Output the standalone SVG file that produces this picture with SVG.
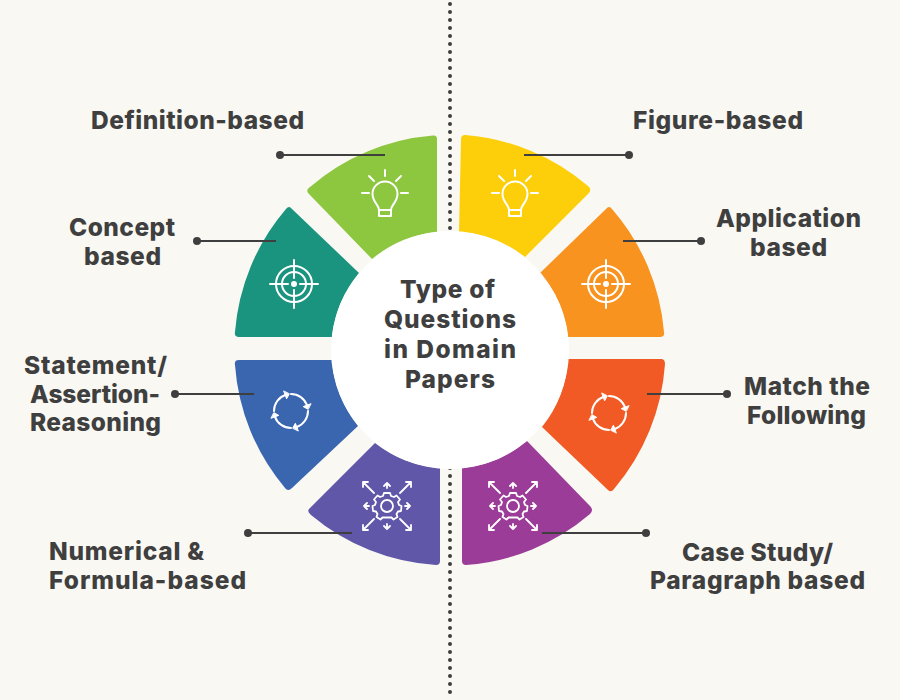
<svg xmlns="http://www.w3.org/2000/svg" width="900" height="700" viewBox="0 0 900 700">
<style>
text{font-family:"Inter","Liberation Sans",sans-serif;font-weight:800;fill:#3f3f3f;font-size:24.500px;text-anchor:middle}
.l{text-anchor:start}
.ic{fill:none;stroke:#fff;stroke-width:2;stroke-linecap:round;stroke-linejoin:round}
.ld{stroke:#3f3f3f;stroke-width:2.200;fill:none}
.dt{fill:#3f3f3f}
.dv{stroke:#3f3f3f;stroke-width:4;stroke-linecap:round;stroke-dasharray:0 8;fill:none}
</style>
<defs>
<g id="bulb" class="ic">
<path d="M-6 15C-6 10-12.500 7-12.500-1A12.500 12.500 0 0 1 12.500-1C12.500 7 6 10 6 15V21H-6ZM-6 15H6M0-25V-19M-16-19-11-14M16-19 11-14M-23-2H-16M23-2H16"/>
</g>
<g id="target" class="ic">
<circle r="18"/><circle r="12"/>
<path d="M0-24V-6M0 6V24M-24 0H-6M6 0H24"/>
<circle r="3" fill="#fff" stroke="none"/>
</g>
<g id="arc"><path d="M0-17A17 17 0 0 1 16-5.800"/><path d="M16.900-1.800 12.200-4.400 19.700-7.200Z" fill="#fff" stroke-width="1"/></g>
<g id="cycle" class="ic">
<use href="#arc"/><use href="#arc" transform="rotate(90)"/><use href="#arc" transform="rotate(180)"/><use href="#arc" transform="rotate(270)"/>
</g>
<g id="gear" class="ic" style="stroke-width:1.800">
<circle r="6"/>
<path d="M-3-13H3L4-10 7-9 9.500-10.500 13-6.500 11-4 12-1 14.500 0 14 5 11 5.500 9.500 8 10.500 11 6.500 13.500 4.500 11.500H-4.500L-6.500 13.500-10.500 11-9.500 8-11 5.500-14 5-14.500 0-12-1-11-4-13-6.500-9.500-10.500-7-9-4-10Z"/>
<path d="M0-18V-23M-3-20 0-23 3-20M0 18V23M-3 20 0 23 3 20M-18 0H-23M-20-3-23 0-20 3M18 0H23M20-3 23 0 20 3M-13-13-24-24M-24-19-24-24-19-24M13-13 24-24M19-24 24-24 24-19M-13 13-24 24M-24 19-24 24-19 24M13 13 24 24M19 24 24 24 24 19"/>
</g>
</defs>
<rect width="900" height="700" fill="#f9f8f3"/>
<g id="divider"><path class="dv" d="M450 4V232"/><path class="dv" d="M450 468V700"/></g>
<g id="seg-definition"><path d="M433 135.500Q437 135 437 139V232A119 119 0 0 0 372 259L309 194Q305 190 310 187A215 215 0 0 1 433 135.500Z" fill="#8dc63f"/><use href="#bulb" x="385" y="195"/></g>
<g id="seg-concept"><path d="M286 209Q289 205 292 209L359 273A119 119 0 0 0 332 337H239Q234 337 235 332A215 215 0 0 1 286 209Z" fill="#1a937f"/><use href="#target" x="294" y="284"/></g>
<g id="seg-statement"><path d="M239 360H332A119 119 0 0 0 358 426L292 488Q288 492 285 488A215 215 0 0 1 235 365Q234 360 239 360Z" fill="#3a66b0"/><use href="#cycle" x="291" y="411"/></g>
<g id="seg-numerical"><path d="M375 443A119 119 0 0 0 440 468V561Q440 565 436 565A215 215 0 0 1 311 515Q306 511 310 508Z" fill="#6157a8"/><use href="#gear" x="387" y="506"/></g>
<g id="seg-figure"><path d="M465 135Q461 135 461 139L459 232A119 119 0 0 1 525 257L589 193Q592 189 588 186A215 215 0 0 0 465 135Z" fill="#fccf0a"/><use href="#bulb" x="515" y="195"/></g>
<g id="seg-application"><path d="M612 209Q609 205 606 209L540 273A119 119 0 0 1 568 337H660Q665 337 664 332A215 215 0 0 0 612 209Z" fill="#f8931f"/><use href="#target" x="606" y="284"/></g>
<g id="seg-match"><path d="M661 359H568A119 119 0 0 1 542 427L608 490Q611 493 614 489A215 215 0 0 0 665 364Q665 359 661 359Z" fill="#f15a24"/><use href="#cycle" x="609" y="413"/></g>
<g id="seg-case"><path d="M527 441A119 119 0 0 1 462 468V561Q462 565 466 565A215 215 0 0 0 590 514Q594 510 590 506Z" fill="#9b3c98"/><use href="#gear" x="513" y="506"/></g>
<g id="connectors">
<path class="ld" d="M280 155H385M197 241H276M175 394H254M248 533H352M524 155H629M623 241H701M647 394H727M542 533H646"/>
<circle class="dt" cx="280" cy="155" r="4"/><circle class="dt" cx="197" cy="241" r="4"/><circle class="dt" cx="175" cy="394" r="4"/><circle class="dt" cx="248" cy="533" r="4"/><circle class="dt" cx="629" cy="155" r="4"/><circle class="dt" cx="701" cy="241" r="4"/><circle class="dt" cx="727" cy="394" r="4"/><circle class="dt" cx="646" cy="533" r="4"/>
</g>
<g id="hub"><circle cx="450" cy="350" r="119" fill="#fff"/>
<text x="447.500" y="298" textLength="95">Type of</text><text x="450" y="328" textLength="132">Questions</text><text x="450" y="358" textLength="132">in Domain</text><text x="450" y="388" textLength="90">Papers</text></g>
<g id="labels">
<text x="197.500" y="129" textLength="213">Definition-based</text>
<text x="122" y="236" textLength="106">Concept</text><text x="122.500" y="265" textLength="77">based</text>
<text x="95.500" y="374" textLength="143">Statement/</text><text x="95" y="403" textLength="130">Assertion-</text><text x="95.500" y="431" textLength="131">Reasoning</text>
<text class="l" x="49" y="560" textLength="155">Numerical &amp;</text><text class="l" x="49" y="589" textLength="197">Formula-based</text>
<text x="718" y="129" textLength="170">Figure-based</text>
<text x="788.500" y="227" textLength="145">Application</text><text x="788.500" y="256" textLength="77">based</text>
<text x="807" y="395" textLength="126">Match the</text><text x="806.500" y="424" textLength="119">Following</text>
<text x="757.500" y="561" textLength="151">Case Study/</text><text x="757.500" y="589" textLength="215">Paragraph based</text>
</g>
</svg>
